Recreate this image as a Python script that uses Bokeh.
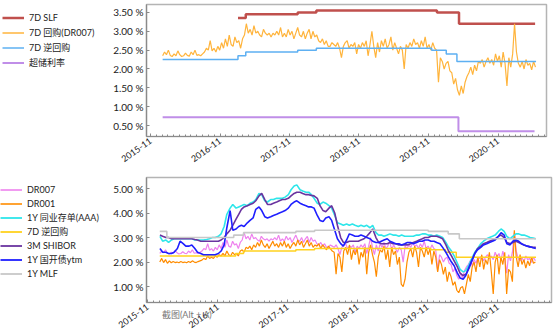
import pandas as pd
from bokeh.plotting import figure
from bokeh.models import (Legend, LegendItem, FixedTicker, PrintfTickFormatter,
                          DatetimeTickFormatter, Range1d)
from bokeh.layouts import column, row
from bokeh.embed import file_html
from bokeh.resources import INLINE

# ---------------- data ----------------
# 10-day sampled money-market rates (start 2016-01-04)
dr007 = [
    2.35, 2.45, 2.38, 2.50, 2.36, 2.33, 2.40, 2.35, 2.48, 2.38, 2.33, 2.35,
    2.42, 2.36, 2.34, 2.45, 2.38, 2.50, 2.36, 2.38, 2.35, 2.40, 2.45, 2.55,
    2.50, 2.75, 2.48, 2.55, 2.45, 2.60, 2.50, 2.70, 2.55, 2.80, 2.60, 2.90, 2.65,
    2.60, 2.85, 2.70, 2.75, 2.55, 2.80, 2.90, 3.20, 2.95, 3.05, 2.90, 3.15,
    2.95, 3.00, 2.90, 2.85, 3.05, 2.95, 2.90, 2.95, 2.85, 2.95, 2.90, 3.00,
    2.90, 3.10, 2.85, 2.95, 2.85, 3.05, 2.90, 3.00, 2.80, 2.95, 3.10, 2.90,
    2.85, 3.00, 2.80, 2.95, 3.05, 2.80, 3.00, 2.85, 2.90, 2.75, 2.70, 2.80,
    2.65, 2.75, 2.60, 2.60, 2.70, 2.65, 2.60, 2.70, 2.55, 2.30, 2.60, 2.70,
    2.75, 2.55, 2.65, 2.60, 2.70, 2.40, 2.65, 2.55, 2.70, 2.60, 2.75, 2.35, 2.65,
    3.00, 2.60, 2.30, 2.70, 2.45, 2.75, 2.60, 2.80, 2.55, 2.65, 2.85, 2.50,
    2.70, 2.55, 2.40, 2.60, 2.50, 2.00, 2.65, 2.55, 2.70, 2.60, 2.80, 2.65,
    2.70, 2.55, 2.75, 2.60, 2.85, 2.55, 2.65, 2.50, 2.70, 2.55, 2.50, 1.65,
    2.30, 2.20, 2.00, 2.15, 2.20, 1.95, 1.90, 1.60, 1.75, 1.45, 1.30, 1.55,
    1.35, 1.65, 1.80, 1.90, 2.05, 1.85, 2.10, 1.95, 2.20, 2.15, 2.25, 2.05,
    2.20, 2.30, 2.15, 2.25, 2.10, 2.40, 2.20, 2.35, 2.05, 2.45, 2.15, 1.55, 2.30,
    2.05, 2.40, 3.20, 2.45, 2.15, 2.05, 2.20, 2.00, 2.25, 2.10, 2.15, 1.98,
    2.20, 2.05,
]
dr001 = [
    2.00, 2.15, 1.98, 2.10, 1.95, 2.05, 1.97, 2.02, 1.98, 2.00, 1.97, 2.02,
    1.98, 2.00, 1.97, 2.02, 1.98, 2.05, 2.00, 1.98, 2.02, 2.05, 2.08, 2.15,
    2.10, 2.25, 2.15, 2.20, 2.15, 2.25, 2.20, 2.30, 2.25, 2.35, 2.25, 2.45, 2.30,
    2.25, 2.40, 2.30, 2.35, 2.25, 2.45, 2.50, 2.40, 2.60, 2.55, 2.65, 2.50,
    2.70, 2.60, 2.80, 2.65, 2.90, 2.70, 2.60, 2.75, 2.55, 2.70, 2.85, 2.65,
    2.75, 2.60, 2.80, 2.65, 2.85, 2.60, 2.75, 2.55, 2.70, 2.80, 2.65, 2.90,
    2.70, 2.85, 2.60, 2.75, 2.90, 2.65, 2.80, 2.60, 2.70, 2.65, 2.75, 2.55,
    2.70, 2.60, 2.50, 2.65, 2.55, 2.45, 2.40, 1.50, 2.35, 2.20, 1.60, 2.45,
    2.60, 2.30, 2.70, 2.10, 2.50, 2.30, 2.55, 1.90, 2.40, 2.20, 2.60, 1.50, 2.40,
    2.70, 2.30, 2.00, 1.40, 2.20, 2.50, 2.40, 2.65, 2.10, 2.50, 1.80, 2.60,
    2.30, 2.45, 1.90, 2.20, 1.10, 1.00, 1.30, 2.00, 2.40, 2.55, 2.20, 2.65,
    2.40, 1.80, 2.60, 2.45, 2.20, 2.60, 2.30, 2.55, 1.90, 2.45, 2.20, 1.60,
    2.10, 1.90, 1.50, 1.80, 1.20, 1.60, 1.40, 1.05, 1.20, 0.85, 0.75, 0.95,
    1.00, 0.70, 1.10, 1.50, 1.20, 1.80, 2.00, 1.60, 2.20, 1.80, 2.30, 1.70,
    2.10, 1.90, 2.40, 1.60, 0.70, 2.00, 2.30, 1.50, 2.20, 1.90, 2.40, 0.70, 1.70,
    1.60, 1.20, 3.30, 2.20, 1.80, 2.30, 1.90, 2.10, 1.75, 2.05, 1.85, 2.20,
    1.95, 2.00,
]

# semi-monthly sampled market yields (2016-01 .. 2021-05)
ncd_1y = [
    3.05, 2.85, 2.90, 2.80, 2.90, 2.95, 2.95, 2.95, 2.95, 2.95, 2.95, 2.95,
    2.90, 2.90, 2.90, 2.90, 2.92, 2.95, 3.00, 3.00, 3.05, 3.15, 3.45, 3.95,
    4.20, 4.35, 4.20, 4.25, 4.30, 4.35, 4.30, 4.40, 4.45, 4.55, 4.80, 4.75,
    4.50, 4.45, 4.55, 4.55, 4.60, 4.60, 4.60, 4.65, 4.75, 4.95, 5.10, 5.15,
    4.95, 4.90, 4.85, 4.85, 4.75, 4.60, 4.40, 4.35, 4.45, 4.40, 4.30, 4.20,
    3.90, 3.60, 3.55, 3.50, 3.55, 3.50, 3.55, 3.50, 3.45, 3.50, 3.45, 3.50,
    3.40, 3.50, 3.20, 3.10, 3.10, 3.05, 3.10, 3.15, 3.10, 3.10, 3.05, 3.10,
    3.05, 3.05, 3.05, 3.05, 3.10, 3.10, 3.15, 3.15, 3.10, 3.10, 3.05, 3.10,
    3.05, 3.00, 2.80, 2.60, 2.45, 2.25, 1.95, 1.70, 1.60, 1.65, 1.90, 2.15,
    2.40, 2.55, 2.75, 2.85, 2.95, 3.00, 3.05, 3.10, 3.25, 3.35, 3.25, 3.05,
    2.95, 3.05, 3.15, 3.15, 3.10, 3.10, 3.05, 3.00, 2.98, 2.95,
]
shibor_3m = [
    3.10, 3.05, 3.00, 3.00, 2.95, 2.95, 2.95, 2.95, 2.95, 2.95, 2.95, 2.95,
    2.92, 2.90, 2.85, 2.85, 2.85, 2.85, 2.85, 2.85, 2.85, 2.90, 3.00, 3.15,
    3.30, 3.50, 3.75, 3.95, 4.15, 4.25, 4.30, 4.35, 4.40, 4.50, 4.70, 4.80,
    4.55, 4.35, 4.35, 4.40, 4.45, 4.50, 4.55, 4.55, 4.60, 4.70, 4.80, 4.85,
    4.85, 4.80, 4.75, 4.75, 4.72, 4.70, 4.60, 4.30, 4.10, 4.05, 4.20, 4.30,
    4.00, 3.50, 3.00, 2.80, 2.80, 2.85, 2.85, 2.85, 2.85, 2.90, 2.95, 3.05,
    3.20, 3.35, 3.00, 2.80, 2.75, 2.75, 2.75, 2.80, 2.75, 2.75, 2.70, 2.70,
    2.70, 2.70, 2.75, 2.80, 2.85, 2.90, 2.95, 3.00, 3.00, 3.05, 3.05, 3.05,
    3.00, 2.95, 2.70, 2.45, 2.25, 2.05, 1.80, 1.55, 1.45, 1.50, 1.75, 2.05,
    2.35, 2.55, 2.65, 2.75, 2.80, 2.85, 2.90, 2.95, 3.05, 3.10, 3.00, 2.80,
    2.75, 2.80, 2.85, 2.80, 2.75, 2.70, 2.65, 2.62, 2.60, 2.60,
]
cdb_1y = [
    2.55, 2.40, 2.40, 2.35, 2.35, 2.40, 2.55, 2.85, 2.75, 2.65, 2.65, 2.70,
    2.55, 2.40, 2.35, 2.30, 2.30, 2.30, 2.30, 2.30, 2.35, 2.45, 2.70, 3.40,
    4.10, 3.30, 3.35, 3.45, 3.50, 3.45, 3.60, 3.70, 3.80, 4.15, 4.25, 4.10,
    3.85, 3.80, 3.85, 3.90, 3.95, 4.00, 4.05, 4.10, 4.20, 4.35, 4.45, 4.50,
    4.40, 4.35, 4.30, 4.25, 4.25, 4.20, 3.90, 3.70, 3.65, 3.80, 3.85, 3.70,
    3.30, 2.95, 2.75, 2.65, 2.90, 3.15, 3.10, 3.05, 3.05, 3.10, 3.05, 3.00,
    2.95, 2.85, 2.80, 2.80, 2.85, 2.90, 2.95, 2.85, 2.80, 2.75, 2.75, 2.70,
    2.75, 2.80, 2.80, 2.75, 2.80, 2.85, 2.85, 2.90, 2.90, 2.85, 2.85, 2.80,
    2.75, 2.60, 2.40, 2.20, 2.00, 1.85, 1.55, 1.35, 1.30, 1.45, 1.80, 2.05,
    2.35, 2.50, 2.60, 2.70, 2.75, 2.80, 2.85, 2.90, 3.05, 3.20, 3.10, 2.75,
    2.70, 2.85, 2.90, 2.85, 2.75, 2.70, 2.65, 2.62, 2.58, 2.55,
]

# policy rates (change dates / levels)
repo7d_dates = ["2016-01-04", "2017-02-03", "2017-03-16", "2017-12-14", "2018-03-22",
                "2019-11-18", "2020-02-03", "2020-03-30", "2021-05-20"]
repo7d_vals = [2.25, 2.35, 2.45, 2.50, 2.55, 2.50, 2.40, 2.20, 2.20]
slf7d_dates = ["2017-02-03", "2017-03-16", "2017-12-14", "2018-03-22",
               "2019-12-16", "2020-04-10", "2021-05-15"]
slf7d_vals = [3.35, 3.45, 3.50, 3.55, 3.50, 3.20, 3.20]
excess_dates = ["2016-01-04", "2020-04-07", "2021-05-12"]
excess_vals = [0.72, 0.35, 0.35]
mlf_dates = ["2016-01-04", "2016-02-10", "2017-01-24", "2017-03-16", "2017-12-14",
             "2018-03-22", "2019-11-05", "2020-02-17", "2020-04-15", "2021-05-20"]
mlf_vals = [3.25, 3.00, 3.10, 3.20, 3.25, 3.30, 3.25, 3.15, 2.95, 2.95]

x_tick_labels = ["2015-11", "2016-11", "2017-11", "2018-11", "2019-11", "2020-11"]
top_yticks = [0.5, 1.0, 1.5, 2.0, 2.5, 3.0, 3.5]
bot_yticks = [1.0, 2.0, 3.0, 4.0, 5.0]

top_labels = ["7D SLF", "7D 回购(DR007)", "7D 逆回购", "超储利率"]
top_colors = ["#c0504d", "#ffb43c", "#5eb0f2", "#c08ee8"]
top_widths = [2.5, 1.5, 1.5, 2.0]
bot_labels = ["DR007", "DR001", "1Y 同业存单(AAA)", "7D 逆回购", "3M SHIBOR",
              "1Y 国开债ytm", "1Y MLF"]
bot_colors = ["#ee82ee", "#ff8c00", "#2ee6ea", "#ffd21f", "#6a34a0", "#1f1fff", "#c8c8c8"]
bot_widths = [1.6, 1.6, 1.8, 1.8, 1.8, 1.8, 1.8]
tooltip_text = "截图(Alt + A)"

# ---------------- layout helpers ----------------
FONT = "Lato, 'Noto Sans CJK SC', sans-serif"
LEG_W = 110
noisy_dates = pd.date_range("2016-01-04", periods=len(dr007), freq="10D")
noisy_dates2 = pd.date_range("2016-01-04", periods=len(dr001), freq="10D")
smooth_dates = pd.date_range("2016-01-01", periods=len(ncd_1y), freq="SMS") + pd.Timedelta(days=4)

top_series = [(pd.to_datetime(slf7d_dates), slf7d_vals), (noisy_dates, dr007),
              (pd.to_datetime(repo7d_dates), repo7d_vals), (pd.to_datetime(excess_dates), excess_vals)]
bot_series = [(noisy_dates, dr007), (noisy_dates2, dr001), (smooth_dates, ncd_1y),
              (pd.to_datetime(repo7d_dates), repo7d_vals), (smooth_dates, shibor_3m),
              (smooth_dates, cdb_1y), (pd.to_datetime(mlf_dates), mlf_vals)]

def ms(d):
    return pd.Timestamp(d).value // 10**6

major = [ms(s + "-01") for s in x_tick_labels]
minor = [ms(d) for d in pd.date_range("2015-08-01", "2021-09-01", freq="MS")]
DAY_PER_PX = 365.25 / 70.0
anchor = pd.Timestamp("2015-11-01")

def style(p, yticks):
    p.xaxis.ticker = FixedTicker(ticks=major, minor_ticks=minor)
    p.xaxis.formatter = DatetimeTickFormatter(years="%Y-%m", months="%Y-%m", days="%Y-%m")
    p.xaxis.major_label_orientation = 0.62
    p.yaxis.ticker = FixedTicker(ticks=yticks)
    p.yaxis.formatter = PrintfTickFormatter(format="%.2f %%")
    for ax in (p.xaxis[0], p.yaxis[0]):
        ax.axis_line_color = "#8a8a8a"
        ax.axis_line_width = 1.2
        ax.major_tick_line_color = "#8a8a8a"
        ax.major_tick_in = 3
        ax.major_tick_out = 0
        ax.major_label_text_font = FONT
        ax.major_label_text_font_size = "9px"
        ax.major_label_text_color = "#222222"
        ax.major_label_standoff = 3
    p.yaxis.major_label_text_font_size = "10px"
    p.xaxis.minor_tick_line_color = "#8a8a8a"
    p.xaxis.minor_tick_in = 2
    p.xaxis.minor_tick_out = 0
    p.yaxis.minor_tick_line_color = None
    p.xgrid.visible = False
    p.ygrid.visible = False
    p.outline_line_color = "#b4b4b4"
    p.outline_line_width = 1.5

def legend_fig(height, labels, colors, widths, series, loc, sp):
    # legend-only panel; its sample lines reuse the series data, which lies outside this view
    lf = figure(width=LEG_W, height=height, output_backend="svg", toolbar_location=None,
                x_axis_location=None, y_axis_location=None,
                min_border_left=0, min_border_right=0, min_border_top=0, min_border_bottom=0,
                x_range=Range1d(0, 1), y_range=Range1d(0, 1))
    lf.outline_line_color = None
    lf.xgrid.visible = False
    lf.ygrid.visible = False
    items = []
    for lab, col, w, (xs, ys) in zip(labels, colors, widths, series):
        r = lf.line(xs, ys, line_color=col, line_width=w)
        items.append(LegendItem(label=lab, renderers=[r]))
    lg = Legend(items=items, location=loc, border_line_color=None,
                background_fill_alpha=0, padding=0, margin=0, spacing=sp,
                glyph_width=22, glyph_height=13, label_height=13, label_standoff=5,
                label_text_font=FONT, label_text_font_size="9px",
                label_text_color="#222222")
    lf.add_layout(lg)
    return lf

# ---------------- top chart ----------------
TOP_H = 172
p1 = figure(width=554 - LEG_W, height=TOP_H, x_axis_type="datetime", output_backend="svg",
            toolbar_location=None, min_border_left=143 - LEG_W, min_border_right=8,
            min_border_top=4, min_border_bottom=36)
p1.x_range = Range1d(ms(anchor - pd.Timedelta(days=4 * DAY_PER_PX)),
                     ms(anchor + pd.Timedelta(days=399 * DAY_PER_PX)))
p1.y_range = Range1d(0.21, 3.71)
style(p1, top_yticks)

p1.step(pd.to_datetime(slf7d_dates), slf7d_vals, mode="after",
        line_color=top_colors[0], line_width=top_widths[0])
p1.line(noisy_dates, dr007, line_color=top_colors[1], line_width=1.2)
p1.step(pd.to_datetime(repo7d_dates), repo7d_vals, mode="after",
        line_color=top_colors[2], line_width=top_widths[2])
p1.step(pd.to_datetime(excess_dates), excess_vals, mode="after",
        line_color=top_colors[3], line_width=top_widths[3])
l1 = legend_fig(TOP_H, top_labels, top_colors, top_widths, top_series, (2, 67), 2)

# ---------------- bottom chart ----------------
BOT_H = 157
p2 = figure(width=554 - LEG_W, height=BOT_H, x_axis_type="datetime", output_backend="svg",
            toolbar_location=None, min_border_left=146 - LEG_W, min_border_right=3,
            min_border_top=5, min_border_bottom=27)
p2.x_range = Range1d(ms(anchor - pd.Timedelta(days=1 * DAY_PER_PX)),
                     ms(anchor + pd.Timedelta(days=404 * DAY_PER_PX)))
p2.y_range = Range1d(0.35, 5.45)
style(p2, bot_yticks)

p2.line(noisy_dates, dr007, line_color=bot_colors[0], line_width=1.2)
p2.line(noisy_dates2, dr001, line_color=bot_colors[1], line_width=1.2)
p2.line(smooth_dates, ncd_1y, line_color=bot_colors[2], line_width=1.6)
p2.step(pd.to_datetime(repo7d_dates), repo7d_vals, mode="after",
        line_color=bot_colors[3], line_width=1.5)
p2.line(smooth_dates, shibor_3m, line_color=bot_colors[4], line_width=1.6)
p2.line(smooth_dates, cdb_1y, line_color=bot_colors[5], line_width=1.6)
p2.step(pd.to_datetime(mlf_dates), mlf_vals, mode="after",
        line_color=bot_colors[6], line_width=1.6)
l2 = legend_fig(BOT_H, bot_labels, bot_colors, bot_widths, bot_series, (0, 22), 1)

# screenshot tooltip text, drawn as the x-axis label tucked under the axis
# (centred on the axis; trailing ideographic spaces move the visible text to the left end)
xa = p2.xaxis[0]
props = xa.properties()
xa.axis_label = tooltip_text + "\u3000" * 36
xa.axis_label_text_font = FONT
xa.axis_label_text_font_size = "9px"
xa.axis_label_text_font_style = "normal"
xa.axis_label_text_color = "#777777"
xa.axis_label_standoff = -25
if "axis_label_align" in props:
    xa.axis_label_align = "center"

layout = column(row(l1, p1, spacing=0), row(l2, p2, spacing=0), spacing=0)
open("out.html", "w").write(file_html(layout, INLINE))
